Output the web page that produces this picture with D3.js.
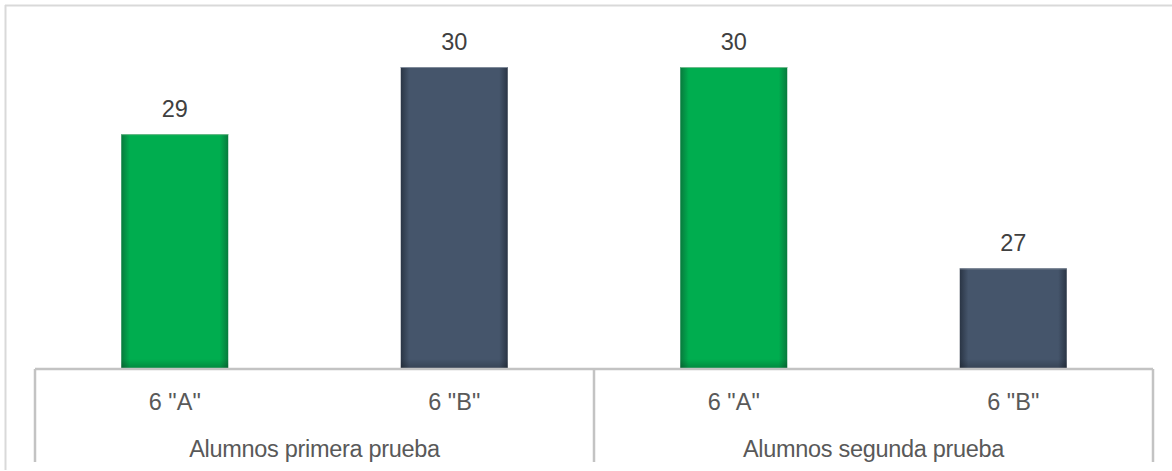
<!DOCTYPE html>
<html>
<head>
<meta charset="utf-8">
<script src="https://cdn.jsdelivr.net/npm/d3@7"></script>
<style>
  html, body { margin: 0; padding: 0; background: #ffffff; }
  svg { display: block; font-family: "Liberation Sans", Arial, sans-serif; }
</style>
</head>
<body>
<svg id="chart" width="1172" height="471"></svg>
<script>
// ---- data ----
const groups = ["Alumnos primera prueba", "Alumnos segunda prueba"];
const sections = ['6 "A"', '6 "B"'];
const values = [29, 30, 30, 27]; // order: g1-A, g1-B, g2-A, g2-B
const seriesColors = ["green", "slate"];

// ---- layout ----
const W = 1172, H = 471;
const axisLeft = 35, axisRight = 1153, baseY = 369, axisBottom = 462;
const svg = d3.select("#chart");

const rows = [];
groups.forEach((g, gi) => sections.forEach((s, si) => rows.push({ group: g, section: s, key: g + "|" + s, value: values[gi * sections.length + si], series: si })));

const x0 = d3.scaleBand().domain(groups).range([axisLeft, axisRight]).paddingInner(0).paddingOuter(0);
const x1 = d3.scaleBand().domain(sections).range([0, x0.bandwidth()]).paddingInner(0).paddingOuter(0);
const y = d3.scaleLinear().domain([25.5, 30]).range([baseY, 67]);

// gradients
const defs = svg.append("defs");
const palettes = {
  green: { edge: "#087a3d", mid: "#00ad4f" },
  slate: { edge: "#2a3545", mid: "#45556b" }
};
Object.entries(palettes).forEach(([k, p]) => {
  const g = defs.append("linearGradient").attr("id", "grad-" + k).attr("x1", "0").attr("x2", "1").attr("y1", "0").attr("y2", "0");
  g.append("stop").attr("offset", "0%").attr("stop-color", p.edge);
  g.append("stop").attr("offset", "8%").attr("stop-color", p.mid);
  g.append("stop").attr("offset", "92%").attr("stop-color", p.mid);
  g.append("stop").attr("offset", "100%").attr("stop-color", p.edge);
});
// bottom shading (user space, near the baseline)
const vg = defs.append("linearGradient").attr("id", "shade-bottom")
  .attr("gradientUnits", "userSpaceOnUse").attr("x1", 0).attr("x2", 0).attr("y1", baseY - 10).attr("y2", baseY);
vg.append("stop").attr("offset", "0%").attr("stop-color", "#000").attr("stop-opacity", 0);
vg.append("stop").attr("offset", "100%").attr("stop-color", "#000").attr("stop-opacity", 0.22);

// outer frame (top and left)
svg.append("line").attr("x1", 5).attr("x2", W).attr("y1", 5.5).attr("y2", 5.5).attr("stroke", "#d9d9d9").attr("stroke-width", 2);
svg.append("line").attr("x1", 5.5).attr("x2", 5.5).attr("y1", 5).attr("y2", 470).attr("stroke", "#d9d9d9").attr("stroke-width", 2);

const barW = 107;
const cx = d => x0(d.group) + x1(d.section) + x1.bandwidth() / 2;

// bars
svg.append("g").selectAll("rect").data(rows).join("rect")
  .attr("x", d => cx(d) - barW / 2)
  .attr("y", d => y(d.value))
  .attr("width", barW)
  .attr("height", d => baseY - y(d.value))
  .attr("fill", d => "url(#grad-" + seriesColors[d.series] + ")");
svg.append("g").selectAll("rect").data(rows).join("rect")
  .attr("x", d => cx(d) - barW / 2)
  .attr("y", baseY - 10)
  .attr("width", barW)
  .attr("height", 10)
  .attr("fill", "url(#shade-bottom)");

// top highlight line of bars
svg.append("g").selectAll("line").data(rows).join("line")
  .attr("x1", d => cx(d) - barW / 2).attr("x2", d => cx(d) + barW / 2)
  .attr("y1", d => y(d.value) + 0.5).attr("y2", d => y(d.value) + 0.5)
  .attr("stroke", d => d.series === 0 ? "#6fb98c" : "#7f8a99").attr("stroke-width", 1);

// value labels
svg.append("g").selectAll("text").data(rows).join("text")
  .attr("x", d => cx(d))
  .attr("y", d => y(d.value) - 17)
  .attr("text-anchor", "middle")
  .attr("font-size", 23.5)
  .attr("fill", "#404040")
  .text(d => d.value);

// axis line
const axisColor = "#c3c3c3";
svg.append("line").attr("x1", axisLeft).attr("x2", axisRight).attr("y1", baseY).attr("y2", baseY).attr("stroke", axisColor).attr("stroke-width", 2.5);
// group dividers
const dividers = [axisLeft, ...groups.slice(1).map(g => x0(g)), axisRight];
svg.append("g").selectAll("line").data(dividers).join("line")
  .attr("x1", d => d).attr("x2", d => d)
  .attr("y1", baseY).attr("y2", axisBottom)
  .attr("stroke", axisColor).attr("stroke-width", 2.5);

// section labels
svg.append("g").selectAll("text").data(rows).join("text")
  .attr("x", d => cx(d))
  .attr("y", 410)
  .attr("text-anchor", "middle")
  .attr("font-size", 23.5)
  .attr("fill", "#595959")
  .text(d => d.section);

// group labels
svg.append("g").selectAll("text").data(groups).join("text")
  .attr("x", d => x0(d) + x0.bandwidth() / 2)
  .attr("y", 457)
  .attr("text-anchor", "middle")
  .attr("font-size", 23.5)
  .attr("letter-spacing", -0.3)
  .attr("fill", "#595959")
  .text(d => d);
</script>
</body>
</html>
